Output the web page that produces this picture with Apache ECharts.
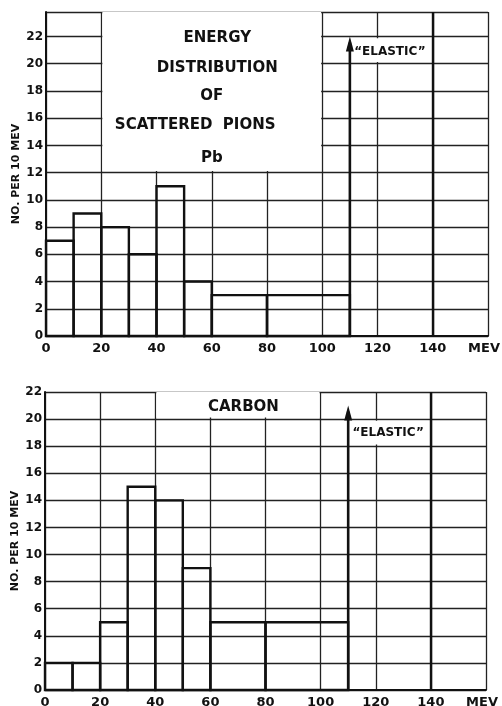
<!DOCTYPE html>
<html>
<head>
<meta charset="utf-8">
<script src="https://cdn.jsdelivr.net/npm/echarts@6/dist/echarts.min.js"></script>
<style>
html,body{margin:0;padding:0;background:#fff;}
#chart{width:502px;height:706px;}
</style>
</head>
<body>
<div id="chart"></div>
<script>
// ---- data ----
const binStart = [0, 10, 20, 30, 40, 50, 60, 80];
const binEnd   = [10, 20, 30, 40, 50, 60, 80, 110];
const pbCounts = [7, 9, 8, 6, 11, 4, 3, 3];
const carbonCounts = [2, 2, 5, 15, 14, 9, 5, 5];
const xTickValues = [0, 20, 40, 60, 80, 100, 120, 140, 160];
const xTickLabels = ['0', '20', '40', '60', '80', '100', '120', '140', 'MEV'];
const elasticEnergy = [110];
const pbElasticTop = [22];
const carbonElasticTop = [21];
const heavyGridX = [140];
const pbTitleLines = ['ENERGY', 'DISTRIBUTION', 'OF', 'SCATTERED  PIONS', 'Pb'];
const carbonTitle = ['CARBON'];
const yAxisTitle = 'NO. PER 10 MEV';

const FONT = 'DejaVu Sans';
const INK = '#111';

function histData(counts) {
  return counts.map((c, i) => [binStart[i], binEnd[i], c]);
}

function renderBin(params, api) {
  const p0 = api.coord([api.value(0), 0]);
  const p1 = api.coord([api.value(1), api.value(2)]);
  return {
    type: 'rect',
    shape: { x: p0[0], y: p1[1], width: p1[0] - p0[0], height: p0[1] - p1[1] },
    style: { fill: 'none', stroke: INK, lineWidth: 2.4 }
  };
}

function renderArrow(params, api) {
  const base = api.coord([api.value(0), 0]);
  const tip = api.coord([api.value(0), api.value(1)]);
  return {
    type: 'group',
    children: [
      { type: 'line', shape: { x1: base[0], y1: base[1], x2: tip[0], y2: tip[1] + 6 },
        style: { stroke: INK, lineWidth: 2.6 } },
      { type: 'polygon', shape: { points: [[tip[0], tip[1]], [tip[0] - 4, tip[1] + 15], [tip[0] + 4, tip[1] + 15]] },
        style: { fill: INK } }
    ]
  };
}

function xAxisCfg(gridIndex) {
  return {
    type: 'value', gridIndex, min: 0, max: 160, interval: 20,
    axisLine: { show: true, lineStyle: { color: INK, width: 2 } },
    axisTick: { show: false },
    splitLine: { show: true, lineStyle: { color: '#222', width: 1.3 } },
    axisLabel: {
      margin: 6, color: INK, fontFamily: FONT, fontWeight: 'bold', fontSize: 13,
      formatter: v => {
        const i = xTickValues.indexOf(v);
        if (i < 0) return '';
        return v === 160 ? '{m|' + xTickLabels[i] + '}' : xTickLabels[i];
      },
      rich: { m: { padding: [0, 8, 0, 0], color: INK, fontFamily: FONT, fontWeight: 'bold', fontSize: 13 } }
    }
  };
}

function yAxisCfg(gridIndex, max) {
  return {
    type: 'value', gridIndex, min: 0, max, interval: 2,
    name: yAxisTitle, nameLocation: 'middle', nameGap: 24, nameMoveOverlap: false,
    nameTextStyle: { color: INK, fontFamily: FONT, fontWeight: 'bold', fontSize: 11 },
    axisLine: { show: true, lineStyle: { color: INK, width: 2 } },
    axisTick: { show: false },
    splitLine: { show: true, lineStyle: { color: '#222', width: 1.3 } },
    axisLabel: {
      margin: 3, color: INK, fontFamily: FONT, fontWeight: 'bold', fontSize: 12,
      formatter: v => (v > 22.001 ? '' : String(v))
    }
  };
}

function textPoint(coord, text, size) {
  return {
    coord, symbol: 'circle', symbolSize: 0,
    label: { show: true, position: 'inside', formatter: text, color: INK,
             fontFamily: FONT, fontWeight: 'bold', fontSize: size }
  };
}

const whiteArea = { color: '#fff', opacity: 1, borderWidth: 0 };

const option = {
  backgroundColor: '#fff',
  animation: false,
  grid: [
    { left: 46, right: 14, top: 12, height: 324, containLabel: false, outerBoundsMode: 'none' },
    { left: 45, right: 16, top: 392, height: 298, containLabel: false, outerBoundsMode: 'none' }
  ],
  xAxis: [xAxisCfg(0), xAxisCfg(1)],
  yAxis: [yAxisCfg(0, 23.8), yAxisCfg(1, 22)],
  series: [
    {
      name: 'Pb', type: 'custom', xAxisIndex: 0, yAxisIndex: 0,
      renderItem: renderBin, encode: { x: [0, 1], y: 2 },
      data: histData(pbCounts), z: 5,
      markArea: {
        silent: true, itemStyle: whiteArea, label: { show: false },
        data: [
          [{ coord: [20.4, 12.12] }, { coord: [99.6, 23.8] }],
          [{ coord: [110.4, 20.12] }, { coord: [139.6, 21.88] }]
        ]
      },
      markLine: {
        silent: true, symbol: 'none', label: { show: false },
        lineStyle: { color: INK, width: 2.4, type: 'solid' },
        data: heavyGridX.map(x => ({ xAxis: x }))
      },
      markPoint: {
        silent: true,
        data: [
          textPoint([62, 21.9], pbTitleLines[0], 15),
          textPoint([62, 19.7], pbTitleLines[1], 15),
          textPoint([60, 17.6], pbTitleLines[2], 15),
          textPoint([54, 15.5], pbTitleLines[3], 15),
          textPoint([60, 13.1], pbTitleLines[4], 15),
          textPoint([124.5, 20.85], '\u201CELASTIC\u201D', 12)
        ]
      }
    },
    {
      name: 'Carbon', type: 'custom', xAxisIndex: 1, yAxisIndex: 1,
      renderItem: renderBin, encode: { x: [0, 1], y: 2 },
      data: histData(carbonCounts), z: 5,
      markArea: {
        silent: true, itemStyle: whiteArea, label: { show: false },
        data: [
          [{ coord: [40.4, 20.12] }, { coord: [99.6, 22] }],
          [{ coord: [110.4, 18.12] }, { coord: [139.6, 19.88] }]
        ]
      },
      markLine: {
        silent: true, symbol: 'none', label: { show: false },
        lineStyle: { color: INK, width: 2.4, type: 'solid' },
        data: heavyGridX.map(x => ({ xAxis: x }))
      },
      markPoint: {
        silent: true,
        data: [
          textPoint([72, 20.9], carbonTitle[0], 15),
          textPoint([124.5, 18.95], '\u201CELASTIC\u201D', 12)
        ]
      }
    },
    {
      name: 'Pb elastic', type: 'custom', xAxisIndex: 0, yAxisIndex: 0,
      renderItem: renderArrow, encode: { x: 0, y: 1 }, z: 6,
      data: elasticEnergy.map((e, i) => [e, pbElasticTop[i]])
    },
    {
      name: 'Carbon elastic', type: 'custom', xAxisIndex: 1, yAxisIndex: 1,
      renderItem: renderArrow, encode: { x: 0, y: 1 }, z: 6,
      data: elasticEnergy.map((e, i) => [e, carbonElasticTop[i]])
    }
  ]
};

const chart = echarts.init(document.getElementById('chart'), null, { renderer: 'canvas' });
chart.setOption(option);
</script>
</body>
</html>
